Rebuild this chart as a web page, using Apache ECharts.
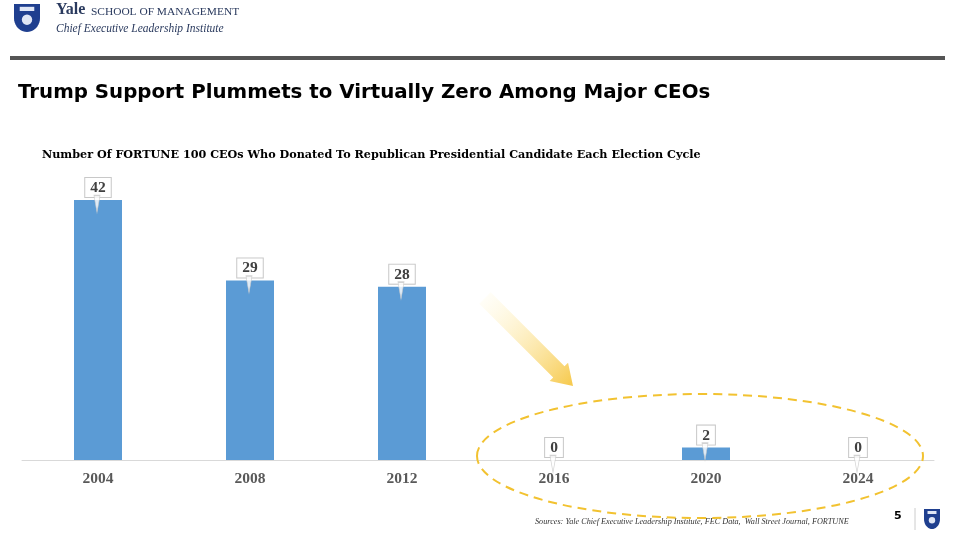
<!DOCTYPE html>
<html><head><meta charset="utf-8">
<script src="https://cdn.jsdelivr.net/npm/echarts@6/dist/echarts.min.js"></script>
<style>html,body{margin:0;padding:0;background:#fff}#c{width:960px;height:538px}</style>
</head><body><div id="c"></div>
<script>
const categories = ['2004','2008','2012','2016','2020','2024'];
const ceoDonors = [42, 29, 28, 0, 2, 0];

const chart = echarts.init(document.getElementById('c'));
const serif = '"Liberation Serif","DejaVu Serif",serif';
const dserif = '"DejaVu Serif","Liberation Serif",serif';
const sans = '"DejaVu Sans","Liberation Sans",Arial,sans-serif';

function shield(x, y, w, h, color) {
  const pts = [[0,0],[w,0]];
  for (let i = 0; i <= 10; i++) {
    const t = i / 10;
    pts.push([w/2 + (w/2) * Math.cos(t * Math.PI / 2), h*0.5 + (h*0.5) * Math.sin(t * Math.PI / 2)]);
  }
  for (let i = 9; i >= 0; i--) {
    const t = i / 10;
    pts.push([w/2 - (w/2) * Math.cos(t * Math.PI / 2), h*0.5 + (h*0.5) * Math.sin(t * Math.PI / 2)]);
  }
  return {
    type: 'group', left: x, top: y, children: [
      {type:'polygon', shape:{points: pts}, style:{fill:color}},
      {type:'circle', shape:{cx:w/2, cy:h*0.56, r:w*0.2}, style:{fill:'#dfe6f5'}},
      {type:'rect', shape:{x:w*0.22, y:h*0.1, width:w*0.56, height:h*0.15}, style:{fill:'#dfe6f5'}}
    ]
  };
}

// arrow geometry (decoration)
const ax0 = 485, ay0 = 298, ax1 = 573, ay1 = 386;
const ang = Math.atan2(ay1 - ay0, ax1 - ax0);
const len = Math.hypot(ax1 - ax0, ay1 - ay0);
function rot(px, py) {
  return [ax0 + px * Math.cos(ang) - py * Math.sin(ang), ay0 + px * Math.sin(ang) + py * Math.cos(ang)];
}
const sw = 8, hw = 13, hl = 20;
const arrowPts = [rot(0,-sw), rot(len-hl,-sw), rot(len-hl,-hw), rot(len,0), rot(len-hl,hw), rot(len-hl,sw), rot(0,sw)];

chart.setOption({
  backgroundColor: '#fff',
  animation: false,
  grid: {left: 22, right: 26, top: 200, bottom: 78},
  xAxis: {
    type: 'category', data: categories,
    axisLine: {lineStyle: {color: '#d9d9d9', width: 1}},
    axisTick: {show: false},
    axisLabel: {color: '#595959', fontFamily: serif, fontWeight: 'bold', fontSize: 15.5, margin: 11}
  },
  yAxis: {type: 'value', min: 0, max: 42, show: false, splitLine: {show: false}},
  series: [
    {
      type: 'bar', data: ceoDonors, barWidth: 48, z: 2,
      itemStyle: {color: '#5B9BD5'},
      label: {
        show: true, position: 'top', distance: 3,
        color: '#404040', fontFamily: serif, fontWeight: 'bold', fontSize: 15.5,
        backgroundColor: '#fff', borderColor: '#c8c8c8', borderWidth: 1,
        padding: [2, 5, 1, 5]
      }
    },
    {
      type: 'scatter', data: ceoDonors, z: 3, silent: true,
      symbol: 'path://M0,0 L8,0 L4,18 Z', symbolSize: [6, 17], symbolOffset: [-1, 4],
      itemStyle: {color: '#fff', borderColor: '#c8c8c8', borderWidth: 1}
    }
  ],
  graphic: [
    shield(14, 4, 26, 28, '#1f3f8f'),
    {type:'text', left: 56, top: 2, style:{text:'Yale', font:'bold 16px '+serif, fill:'#2a3a5e'}},
    {type:'text', left: 91, top: 7, style:{text:'SCHOOL OF MANAGEMENT', font:'11.4px '+serif, fill:'#2a3a5e'}},
    {type:'text', left: 56, top: 23, style:{text:'Chief Executive Leadership Institute', font:'italic 11.5px '+serif, fill:'#2a3a5e'}},
    {type:'rect', shape:{x:10, y:56, width:935, height:4}, style:{fill:'#555'}},
    {type:'text', left: 18, top: 83, style:{text:'Trump Support Plummets to Virtually Zero Among Major CEOs', font:'bold 19.8px '+sans, fill:'#000'}},
    {type:'text', left: 42, top: 150, style:{text:'Number Of FORTUNE 100 CEOs Who Donated To Republican Presidential Candidate Each Election Cycle', font:'bold 11.2px '+dserif, fill:'#000'}},
    {type:'polygon', shape:{points: arrowPts}, style:{fill:{type:'linear', x:ax0, y:ay0, x2:ax1, y2:ay1, global:true,
      colorStops:[{offset:0,color:'rgba(255,240,180,0.1)'},{offset:1,color:'#F6C84A'}]}}},
    {type:'ellipse', shape:{cx:700, cy:456, rx:223, ry:62}, style:{fill:'none', stroke:'#F2C230', lineWidth:2, lineDash:[9,6]}, z:10},
    {type:'text', left: 535, top: 518, style:{text:'Sources: Yale Chief Executive Leadership Institute, FEC Data,  Wall Street Journal, FORTUNE', font:'italic 8.2px '+serif, fill:'#333'}},
    {type:'text', left: 894, top: 511, style:{text:'5', font:'bold 11px '+sans, fill:'#000'}},
    {type:'line', shape:{x1:915, y1:508, x2:915, y2:530}, style:{stroke:'#ccc', lineWidth:1}},
    shield(924, 509, 16, 20, '#1f3f8f')
  ]
});
</script></body></html>
